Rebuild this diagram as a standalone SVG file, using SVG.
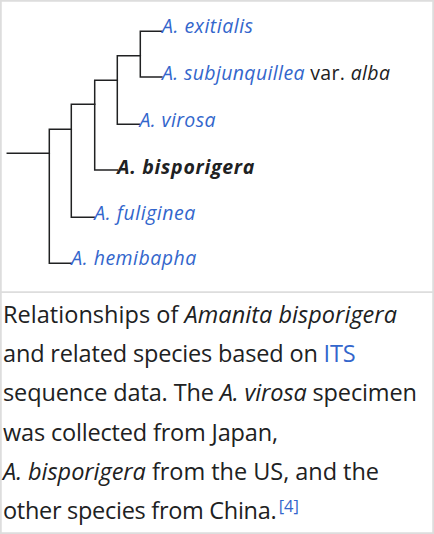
<svg xmlns="http://www.w3.org/2000/svg" width="434" height="534" viewBox="0 0 434 534">
<style>
.lbl{font-family:"Open Sans","Noto Sans","Liberation Sans",sans-serif;font-size:19.5px;font-style:italic;fill:#3366cc}
.blk{fill:#202122}
.cap{font-family:"Open Sans","Noto Sans","Liberation Sans",sans-serif;font-size:23.5px;fill:#202122}
.sup{font-family:"Open Sans","Noto Sans","Liberation Sans",sans-serif;font-size:16.5px;fill:#3366cc}
.it{font-style:italic}
.lnk{fill:#3366cc}
.tree{fill:none;stroke:#202122;stroke-width:1.5;stroke-linecap:square}
</style>
<rect x="0" y="0" width="434" height="534" fill="#ffffff"/>
<rect x="0.875" y="0.875" width="432.25" height="532.25" fill="none" stroke="#dddddd" stroke-width="1.75"/>
<line x1="0" y1="292" x2="434" y2="292" stroke="#dddddd" stroke-width="1.75"/>
<g id="connectors" class="tree">
<path d="M7.3 153.3H49.3"/>
<path d="M71.3 129.3H49.3V263.3H71.3"/>
<path d="M94.7 104.3H71.3V217.3H94.3"/>
<path d="M117.3 80.3H94.7V170H117.3"/>
<path d="M140.3 55.7H117.3V124.3H139.5"/>
<path d="M162 31.3H140.3V77H162"/>
</g>
<g id="node-exitialis"><text class="lbl" x="162" y="33.3" textLength="91" lengthAdjust="spacing">A. exitialis</text></g>
<g id="node-subjunquillea"><text class="lbl" x="162" y="80" textLength="228" lengthAdjust="spacing">A. subjunquillea<tspan class="blk" style="font-style:normal"> var. </tspan><tspan class="blk">alba</tspan></text></g>
<g id="node-virosa"><text class="lbl" x="139.5" y="127" textLength="76" lengthAdjust="spacing">A. virosa</text></g>
<g id="node-bisporigera"><text class="lbl blk" x="117.3" y="174" style="font-weight:bold" textLength="137" lengthAdjust="spacing">A. bisporigera</text></g>
<g id="node-fuliginea"><text class="lbl" x="94.3" y="220" textLength="101" lengthAdjust="spacing">A. fuliginea</text></g>
<g id="node-hemibapha"><text class="lbl" x="71.3" y="265.3" textLength="125" lengthAdjust="spacing">A. hemibapha</text></g>
<g id="caption">
<text class="cap" x="3" y="323" textLength="394" lengthAdjust="spacing">Relationships of <tspan class="it">Amanita bisporigera</tspan></text>
<text class="cap" x="3" y="362" textLength="352.7" lengthAdjust="spacing">and related species based on <tspan class="lnk">ITS</tspan></text>
<text class="cap" x="3" y="401" textLength="414" lengthAdjust="spacing">sequence data. The <tspan class="it">A. virosa</tspan> specimen</text>
<text class="cap" x="3" y="440.5" textLength="275" lengthAdjust="spacing">was collected from Japan,</text>
<text class="cap" x="3" y="479.5" textLength="376" lengthAdjust="spacing"><tspan class="it">A. bisporigera</tspan> from the US, and the</text>
<text class="cap" x="3" y="518.5" textLength="273.7" lengthAdjust="spacing">other species from China.</text>
<text class="sup" x="278.7" y="512">[4]</text>
</g>
</svg>
